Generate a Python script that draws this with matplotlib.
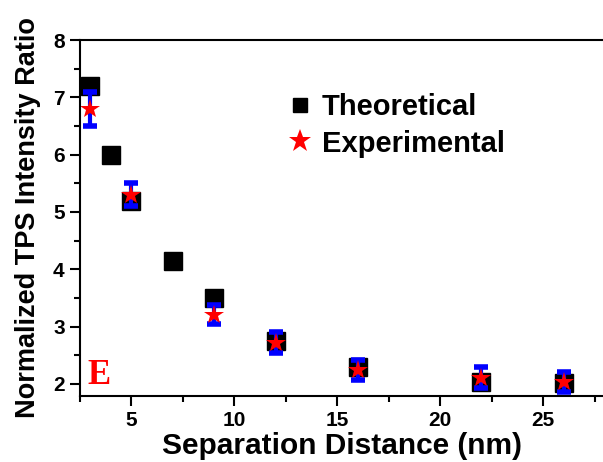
import matplotlib
matplotlib.use('Agg')
import matplotlib.pyplot as plt
from matplotlib.lines import Line2D
from matplotlib.ticker import MultipleLocator

plt.rcParams['font.family'] = ['Liberation Sans', 'DejaVu Sans']
plt.rcParams['font.weight'] = 'bold'

theo_x = [3, 4, 5, 7, 9, 12, 16, 22, 26]
theo_y = [7.2, 6.0, 5.2, 4.15, 3.5, 2.75, 2.3, 2.04, 2.02]
exp_x = [3, 5, 9, 12, 16, 22, 26]
exp_y = [6.8, 5.3, 3.21, 2.72, 2.24, 2.11, 2.03]
exp_err = [0.3, 0.2, 0.16, 0.18, 0.17, 0.18, 0.17]

fig = plt.figure(figsize=(6.03, 4.62), dpi=100)
ax = fig.add_axes([80 / 603, 1 - 396 / 462, 525 / 603, 356 / 462])

ax.plot(theo_x, theo_y, 's', color='black', markersize=12.5)
ax.errorbar(exp_x, exp_y, yerr=exp_err, fmt='none', ecolor='blue',
            elinewidth=3, capsize=5, capthick=4)
ax.plot(exp_x, exp_y, '*', color='red', markersize=15, markeredgewidth=0)

ax.set_xlim(2.5, 28)
ax.set_ylim(1.79, 8)
ax.xaxis.set_major_locator(MultipleLocator(5))
ax.xaxis.set_minor_locator(MultipleLocator(2.5))
ax.yaxis.set_major_locator(MultipleLocator(1))
ax.yaxis.set_minor_locator(MultipleLocator(0.5))
ax.tick_params(which='major', direction='out', length=7, width=1.5,
               labelsize=15, pad=4)
ax.tick_params(which='minor', direction='out', length=4, width=1.5)
ax.spines['right'].set_visible(False)
for s in ['left', 'bottom', 'top']:
    ax.spines[s].set_linewidth(1.5)

ax.set_xlabel('Separation Distance (nm)', fontsize=21.5, fontweight='bold', labelpad=1)
ax.set_ylabel('Normalized TPS Intensity Ratio', fontsize=19.5, fontweight='bold', labelpad=9)

ax.text(2.85, 2.0, 'E', color='red', fontsize=25, fontweight='bold',
        family='Liberation Serif')

handles = [Line2D([], [], ls='none', marker='s', color='black', markersize=10),
           Line2D([], [], ls='none', marker='*', color='red', markersize=17,
                  markeredgewidth=0)]
ax.legend(handles, ['Theoretical', 'Experimental'], loc='upper left',
          bbox_to_anchor=(0.336, 0.925), frameon=False, fontsize=21,
          handletextpad=0.15, labelspacing=0.3, handlelength=1.2)

fig.savefig('out.png', dpi=100)
